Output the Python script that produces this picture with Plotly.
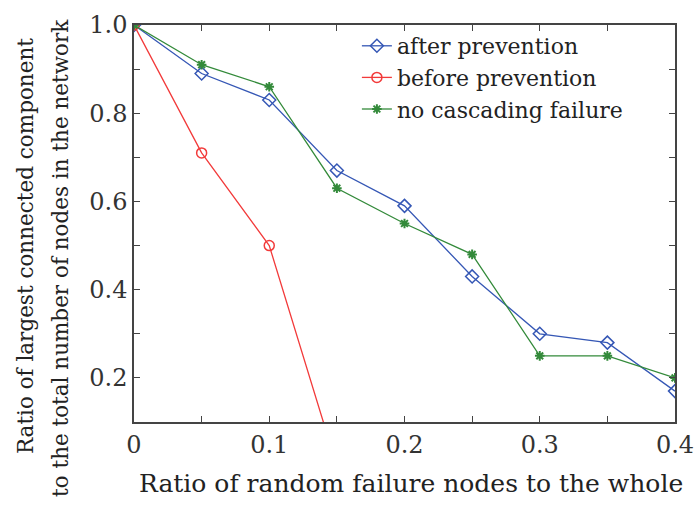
import plotly.graph_objects as go

x = [0, 0.05, 0.10, 0.15, 0.20, 0.25, 0.30, 0.35, 0.40]
after_prevention = [1.0, 0.89, 0.83, 0.67, 0.59, 0.43, 0.30, 0.28, 0.17]
no_cascading = [1.0, 0.91, 0.86, 0.63, 0.55, 0.48, 0.25, 0.25, 0.20]
x_before = [0, 0.05, 0.10, 0.15]
before_prevention = [1.0, 0.71, 0.50, 0.0]

x_tickvals = [0, 0.05, 0.1, 0.15, 0.2, 0.25, 0.3, 0.35, 0.4]
x_ticktext = ["0", "", "0.1", "", "0.2", "", "0.3", "", "0.4"]
y_tickvals = [0.1, 0.2, 0.3, 0.4, 0.5, 0.6, 0.7, 0.8, 0.9, 1.0]
y_ticktext = ["", "0.2", "", "0.4", "", "0.6", "", "0.8", "", "1.0"]

x_title = "Ratio of random failure nodes to the whole"
y_title_1 = "Ratio of largest connected component"
y_title_2 = "to the total number of nodes in the network"

BLUE = "#3557b5"
RED = "#f23a3a"
GREEN = "#338a3a"
FONT = "DejaVu Serif"
TXT = "#222"

fig = go.Figure()
fig.add_trace(go.Scatter(x=x, y=after_prevention, name="after prevention",
                         mode="lines+markers",
                         line=dict(color=BLUE, width=1.3),
                         marker=dict(symbol="diamond-open", size=10, color=BLUE,
                                     line=dict(width=1.5, color=BLUE))))
fig.add_trace(go.Scatter(x=x_before, y=before_prevention, name="before prevention",
                         mode="lines+markers",
                         line=dict(color=RED, width=1.3),
                         marker=dict(symbol="circle-open", size=10, color=RED,
                                     line=dict(width=1.5, color=RED))))
fig.add_trace(go.Scatter(x=x, y=no_cascading, name="no cascading failure",
                         mode="lines+markers",
                         line=dict(color=GREEN, width=1.3),
                         marker=dict(symbol="asterisk-open", size=8, color=GREEN,
                                     line=dict(width=2, color=GREEN))))

axis_common = dict(
    showgrid=False, zeroline=False, showline=True, linecolor="#444",
    linewidth=1.5, mirror="ticks", ticks="inside", ticklen=6, tickwidth=1,
    tickcolor="#444", tickfont=dict(family=FONT, size=24, color="#333"),
    ticklabeloverflow="allow", automargin=False,
)

fig.update_xaxes(range=[0, 0.4], tickmode="array", tickvals=x_tickvals,
                 ticktext=x_ticktext, **axis_common)
fig.update_yaxes(range=[0.1, 1.0], tickmode="array", tickvals=y_tickvals,
                 ticktext=y_ticktext, **axis_common)

fig.update_layout(
    width=694, height=505,
    margin=dict(l=134, r=19, t=25, b=83, autoexpand=False),
    plot_bgcolor="white", paper_bgcolor="white",
    font=dict(family=FONT, color=TXT),
    legend=dict(x=0.412, y=1.0, xanchor="left", yanchor="top",
                bgcolor="rgba(255,255,255,0)",
                font=dict(family=FONT, size=22, color=TXT),
                tracegroupgap=0),
    showlegend=True,
    annotations=[
        dict(text=x_title, xref="paper", yref="paper", x=0.512, y=-0.155,
             xanchor="center", yanchor="middle", showarrow=False,
             font=dict(family=FONT, size=25, color=TXT)),
        dict(text=y_title_1, xref="paper", yref="paper", x=-0.2015, y=0.443,
             xanchor="center", yanchor="middle", showarrow=False, textangle=-90,
             font=dict(family=FONT, size=21.5, color=TXT)),
        dict(text=y_title_2, xref="paper", yref="paper", x=-0.137, y=0.413,
             xanchor="center", yanchor="middle", showarrow=False, textangle=-90,
             font=dict(family=FONT, size=21.5, color=TXT)),
    ],
)

# remove the default page margin so the figure fills the window exactly
post = ("document.body.style.margin='0';document.body.style.padding='0';"
        "document.body.style.overflow='hidden';"
        "document.documentElement.style.overflow='hidden';")
fig.write_html("out.html", post_script=post, config={"displayModeBar": False})
